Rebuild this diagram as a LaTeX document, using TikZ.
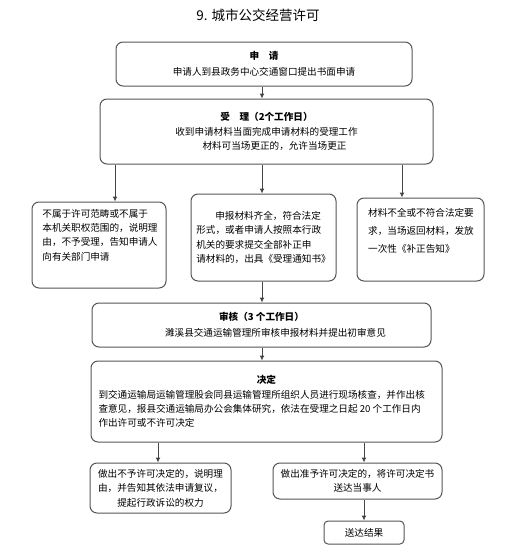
\documentclass[tikz,border=0pt]{standalone}
\usepackage{fontspec}
\setmainfont{Noto Sans CJK SC}
\usepackage{tikz}
\usepackage{xcolor}
\usetikzlibrary{arrows.meta,positioning,calc}
\definecolor{boxline}{RGB}{85,85,85}
\definecolor{linkline}{RGB}{70,70,70}

\tikzset{
  box/.style={draw=boxline,line width=1pt,rounded corners=7pt,inner sep=0pt,align=center,font=\fontsize{9.6}{14.4}\selectfont},
  txt/.style={inner sep=0pt,font=\fontsize{9.6}{14.4}\selectfont},
  arr/.style={draw=linkline,line width=1pt,-{Latex[length=5pt,width=5pt]}},
}

\begin{document}
\begin{tikzpicture}[x=1pt,y=-1pt]
\useasboundingbox (0,0) rectangle (518,552);
% title
\node[font=\fontsize{13.5}{16}\selectfont] (title) at (258,15) {9. 城市公交经营许可};

% application and acceptance
\node[box,minimum width=296,minimum height=44] (shenqing) at (264,64) {\textbf{申\quad 请}\\[1.5pt]申请人到县政务中心交通窗口提出书面申请};
\node[box,minimum width=333,minimum height=65] (shouli) at (266.5,131.5) {\textbf{受\quad 理（2个工作日）}\\收到申请材料当面完成申请材料的受理工作\\\hspace*{16pt}材料可当场更正的，允许当场更正};
\draw[arr] (shenqing.south -| 262,0) -- (shouli.north -| 262,0);

% three outcomes
\node[box,minimum width=134,minimum height=86] (buxu) at (99,245) {};
\node[txt,align=left] (buxutxt) at (100,235) {不属于许可范畴或不属于\\本机关职权范围的，说明理\\由，不予受理，告知申请人\\向有关部门申请};
\node[box,minimum width=145,minimum height=87,align=left] (zhengque) at (263.5,237.5) {\hspace*{19pt}申报材料齐全，符合法定\\形式，或者申请人按照本行政\\机关的要求提交全部补正申\\请材料的，出具《受理通知书》};
\node[box,minimum width=127,minimum height=83] (buquan) at (420.5,239.5) {};
\node[txt,align=left,font=\fontsize{9.6}{18}\selectfont] (buquantxt) at (421,231) {材料不全或不符合法定要\\求，当场返回材料，发放\\一次性《补正告知》};
\coordinate (la) at (115,0);
\coordinate (ra) at (402,0);
\draw[arr] (shouli.south -| la) -- (buxu.north -| la);
\draw[arr] (shouli.south -| 262,0) -- (zhengque.north -| 262,0);
\draw[arr] (shouli.south -| ra) -- (buquan.north -| ra);

% review
\node[box,minimum width=339,minimum height=44] (shenhe) at (261.5,325) {\textbf{审核（3 个工作日）}\\[1.5pt]\hspace*{28pt}濉溪县交通运输管理所审核申报材料并提出初审意见};
\draw[arr] (zhengque.south -| 262,0) -- (shenhe.north -| 262,0);

% decision
\node[box,minimum width=351,minimum height=81,align=left] (jueding) at (266.5,401.5) {\makebox[336pt]{\textbf{决定}}\\到交通运输局运输管理股会同县运输管理所组织人员进行现场核查，并作出核\\查意见，报县交通运输局办公会集体研究，依法在受理之日起 20 个工作日内\\作出许可或不许可决定};
\draw[arr] (shenhe.south -| 262,0) -- (jueding.north -| 262,0);

% results
\node[box,minimum width=141,minimum height=50] (bubei) at (160.5,488) {做出不予许可决定的，说明理\\由，并告知其依法申请复议，\\提起行政诉讼的权力};
\node[box,minimum width=169,minimum height=36] (zhunyu) at (357.5,481) {做出准予许可决定的，将许可决定书\\送达当事人};
\node[box,minimum width=80,minimum height=23,rounded corners=4pt] (songda) at (364,532.5) {送达结果};
\coordinate (rb) at (364,0);
\draw[arr] (jueding.south -| 158,0) -- (bubei.north -| 158,0);
\draw[arr] (jueding.south -| rb) -- (zhunyu.north -| rb);
\draw[arr] (zhunyu.south -| rb) -- (songda.north);
\end{tikzpicture}
\end{document}
